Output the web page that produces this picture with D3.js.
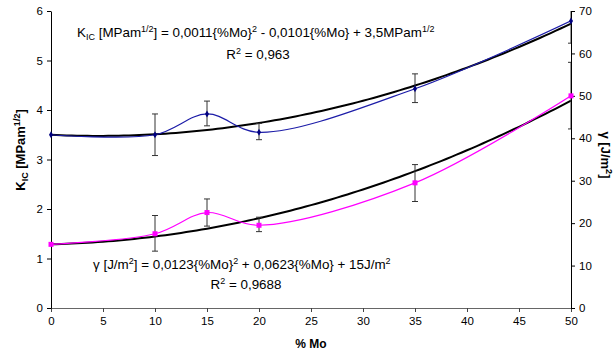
<!DOCTYPE html>
<html><head><meta charset="utf-8">
<script src="https://cdn.jsdelivr.net/npm/d3@7"></script>
<style>body{margin:0;background:#fff}svg{display:block}text{font-family:"Liberation Sans",Arial,sans-serif}</style>
</head><body><svg id="c" width="613" height="351"></svg>
<script>
const moPct = [0, 10, 15, 20, 35, 50];
const kicValues = [3.5, 3.5, 3.92, 3.55, 4.43, 5.8];
const kicErrLow = [null, 3.08, 3.68, 3.40, 4.15, 5.35];
const kicErrHigh = [null, 3.92, 4.18, 3.73, 4.73, 6.25];
const gammaValues = [15, 17.5, 22.5, 19.5, 29.5, 50];
const gammaErrLow = [null, 13.4, 19.3, 18.0, 25.1, 42.2];
const gammaErrHigh = [null, 21.8, 25.7, 21.4, 33.8, 57.9];
const xTicks = [0,5,10,15,20,25,30,35,40,45,50];
const yLeftTicks = [0,1,2,3,4,5,6];
const yRightTicks = [0,10,20,30,40,50,60,70];
const kicFit = [0.0011, -0.0101, 3.5];
const gammaFit = [0.0123, 0.0623, 15];

const svg = d3.select("#c");
const L = 51, R = 571, T = 11, B = 308;
const x = d3.scaleLinear().domain([0,50]).range([L,R]);
const y = d3.scaleLinear().domain([0,6]).range([B,T]);
const y2 = d3.scaleLinear().domain([0,70]).range([B,T]);

// axes
const gx = svg.append("g").attr("transform",`translate(0,${B})`)
  .call(d3.axisBottom(x).tickValues(xTicks).tickFormat(d3.format("d")).tickSize(4).tickPadding(5).tickSizeOuter(0));
gx.select(".domain").attr("stroke","#666");
gx.selectAll(".tick line").attr("stroke","#444");
const gl = svg.append("g").attr("transform",`translate(${L},0)`)
  .call(d3.axisLeft(y).tickValues(yLeftTicks).tickFormat(d3.format("d")).tickSize(4).tickPadding(4).tickSizeOuter(0));
const gr = svg.append("g").attr("transform",`translate(${R},0)`)
  .call(d3.axisRight(y2).tickValues(yRightTicks).tickFormat(d3.format("d")).tickSize(4).tickPadding(4).tickSizeOuter(0));
svg.selectAll(".tick text").attr("font-size",11.5).attr("fill","#000").attr("font-family","Liberation Sans, Arial, sans-serif");

svg.append("clipPath").attr("id","cp").append("rect").attr("x",L).attr("y",T).attr("width",R-L).attr("height",B-T);
const plot = svg.append("g").attr("clip-path","url(#cp)");

// fits
const fx = d3.range(0,50.01,0.5);
const quad = (c,v)=>c[0]*v*v+c[1]*v+c[2];
plot.append("path").datum(fx).attr("fill","none").attr("stroke","#000").attr("stroke-width",2)
  .attr("d",d3.line().x(d=>x(d)).y(d=>y(quad(kicFit,d))));
plot.append("path").datum(fx).attr("fill","none").attr("stroke","#000").attr("stroke-width",2)
  .attr("d",d3.line().x(d=>x(d)).y(d=>y2(quad(gammaFit,d))));

// data lines
const idx = d3.range(moPct.length);
plot.append("path").datum(idx).attr("fill","none").attr("stroke","#1c1ca8").attr("stroke-width",1.2)
  .attr("d",d3.line().curve(d3.curveCatmullRom.alpha(0.5)).x(i=>x(moPct[i])).y(i=>y(kicValues[i])));
plot.append("path").datum(idx).attr("fill","none").attr("stroke","#ff00ff").attr("stroke-width",1.2)
  .attr("d",d3.line().curve(d3.curveCatmullRom.alpha(0.5)).x(i=>x(moPct[i])).y(i=>y2(gammaValues[i])));

// error bars
function errs(lo,hi,sc){
  idx.filter(i=>lo[i]!=null).forEach(i=>{
    const cx=x(moPct[i]);
    plot.append("line").attr("x1",cx).attr("x2",cx).attr("y1",sc(lo[i])).attr("y2",sc(hi[i])).attr("stroke","#333").attr("stroke-width",1);
    [lo[i],hi[i]].forEach(v=>plot.append("line").attr("x1",cx-3).attr("x2",cx+3).attr("y1",sc(v)).attr("y2",sc(v)).attr("stroke","#333").attr("stroke-width",1));
  });
}
errs(kicErrLow,kicErrHigh,y);
errs(gammaErrLow,gammaErrHigh,y2);

// markers
svg.selectAll(".dk").data(idx).join("path").attr("fill","#000080")
  .attr("transform",i=>`translate(${x(moPct[i])},${y(kicValues[i])})`)
  .attr("d",d3.symbol(d3.symbolDiamond,14));
svg.selectAll(".dg").data(idx).join("rect").attr("fill","#ff00ff")
  .attr("x",i=>x(moPct[i])-2.5).attr("y",i=>y2(gammaValues[i])-2.5).attr("width",5).attr("height",5);

// equations
function eq(xp,yp,parts,anchor){
  const t=svg.append("text").attr("x",xp).attr("y",yp).attr("font-size",13.4).attr("fill","#000").attr("text-anchor",anchor||"start");
  parts.forEach(p=>{
    const s=t.append("tspan").text(p[0]);
    if(p[1]==="sup") s.attr("font-size",9).attr("dy",-5);
    if(p[1]==="sub") s.attr("font-size",9).attr("dy",3);
    if(p[2]) s.attr("dy",p[2]);
  });
  return t;
}
eq(77,37,[["K"],["IC","sub"],[" [MPam",null,-3],["1/2","sup"],["] = 0,0011{%Mo}",null,5],["2","sup"],[" - 0,0101{%Mo} + 3,5MPam",null,5],["1/2","sup"]]);
eq(258,59,[["R"],["2","sup"],[" = 0,963",null,5]],"middle");
eq(93,269,[["γ [J/m"],["2","sup"],["] = 0,0123{%Mo}",null,5],["2","sup"],[" + 0,0623{%Mo} + 15J/m",null,5],["2","sup"]]);
eq(246,289,[["R"],["2","sup"],[" = 0,9688",null,5]],"middle");

// axis titles
const lt=svg.append("text").attr("transform","translate(25,150) rotate(-90)").attr("text-anchor","middle").attr("font-size",13).attr("font-weight","bold");
lt.append("tspan").text("K");lt.append("tspan").text("IC").attr("font-size",9).attr("dy",3);
lt.append("tspan").text(" [MPam").attr("dy",-3);lt.append("tspan").text("1/2").attr("font-size",9).attr("dy",-5);
lt.append("tspan").text("]").attr("dy",5);
const rt=svg.append("text").attr("transform","translate(601,155) rotate(90)").attr("text-anchor","middle").attr("font-size",13).attr("font-weight","bold");
rt.append("tspan").text("γ [J/m");rt.append("tspan").text("2").attr("font-size",9).attr("dy",-5);
rt.append("tspan").text("]").attr("dy",5);
svg.append("text").attr("x",311).attr("y",348).attr("text-anchor","middle").attr("font-size",12).attr("font-weight","bold").text("% Mo");
</script></body></html>
